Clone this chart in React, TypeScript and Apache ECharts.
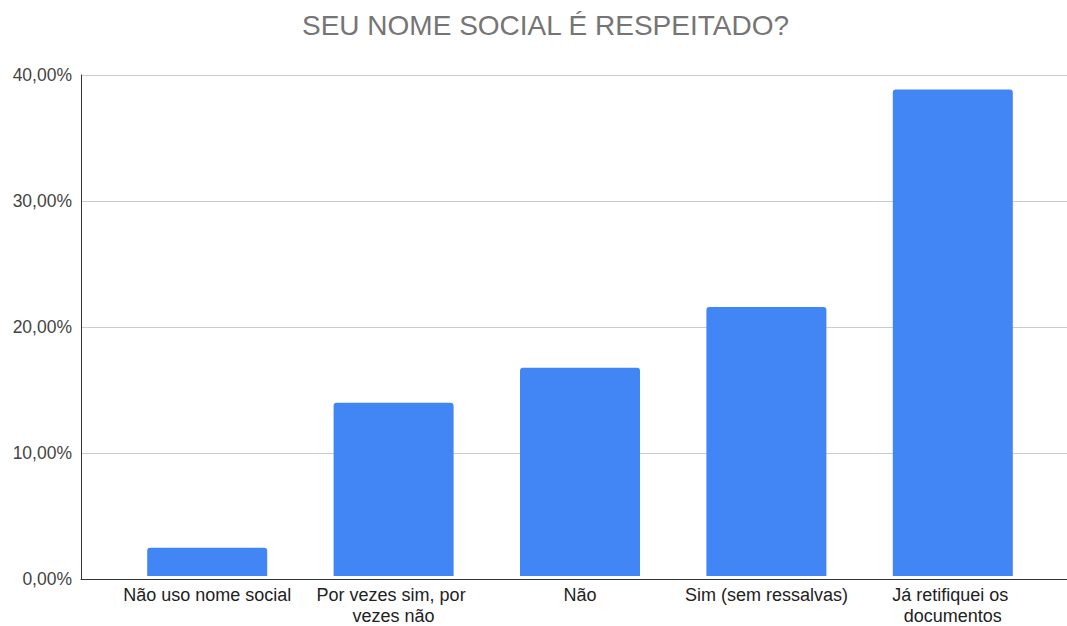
import React, { useEffect, useRef } from "react";
import * as echarts from "echarts";

const titleText = "SEU NOME SOCIAL É RESPEITADO?";
const categories = [
  "Não uso nome social",
  "Por vezes sim, por vezes não",
  "Não",
  "Sim (sem ressalvas)",
  "Já retifiquei os documentos",
];
const values = [2.26, 13.84, 16.62, 21.48, 38.84];
const yTicks = [0, 10, 20, 30, 40];

const FONT = "'Liberation Sans', Arial, sans-serif";

export default function App() {
  const ref = useRef<HTMLDivElement>(null);
  useEffect(() => {
    if (!ref.current) return;
    const chart = echarts.init(ref.current, undefined, { renderer: "svg" });
    const yMin = yTicks[0];
    const yMax = yTicks[yTicks.length - 1];
    const yInt = yTicks[1] - yTicks[0];
    chart.setOption({
      animation: false,
      backgroundColor: "#ffffff",
      title: {
        text: titleText,
        left: 297,
        top: 6,
        textStyle: {
          fontSize: 28,
          fontWeight: "normal",
          color: "#757575",
          fontFamily: FONT,
        },
      },
      grid: [
        { left: 81, right: 0, top: 75, bottom: 47, containLabel: false },
        { left: 114, width: 932, top: 75, bottom: 47, containLabel: false },
      ],
      xAxis: [
        {
          type: "value",
          gridIndex: 0,
          min: 0,
          max: 1,
          axisLine: { show: true, onZero: false, lineStyle: { color: "#333333", width: 1 } },
          axisTick: { show: false },
          axisLabel: { show: false },
          splitLine: { show: false },
        },
        {
          type: "category",
          gridIndex: 1,
          data: categories,
          axisLine: { show: false },
          axisTick: { show: false },
          axisLabel: {
            margin: 8,
            fontSize: 18,
            color: "#222222",
            fontFamily: FONT,
            width: 190,
            overflow: "break",
            lineHeight: 21,
            interval: 0,
          },
        },
      ],
      yAxis: [
        {
          type: "value",
          gridIndex: 0,
          min: yMin,
          max: yMax,
          interval: yInt,
          axisLine: { show: true, lineStyle: { color: "#333333", width: 1 } },
          axisTick: { show: false },
          axisLabel: {
            margin: 9,
            fontSize: 17.5,
            color: "#444444",
            fontFamily: FONT,
            formatter: (v: number) => v.toFixed(2).replace(".", ",") + "%",
          },
          splitLine: { show: true, lineStyle: { color: "#cccccc", width: 1 } },
        },
        {
          type: "value",
          gridIndex: 1,
          min: yMin,
          max: yMax,
          interval: yInt,
          show: false,
          splitLine: { show: false },
        },
      ],
      series: [
        {
          type: "bar",
          xAxisIndex: 1,
          yAxisIndex: 1,
          data: values,
          barWidth: 120,
          itemStyle: { color: "#4285f4", borderRadius: [3, 3, 0, 0] },
          z: 1,
        },
      ],
    });
    return () => chart.dispose();
  }, []);
  return (
    <div
      ref={ref}
      style={{ position: "fixed", left: 0, top: 0, width: 1067, height: 626 }}
    />
  );
}
